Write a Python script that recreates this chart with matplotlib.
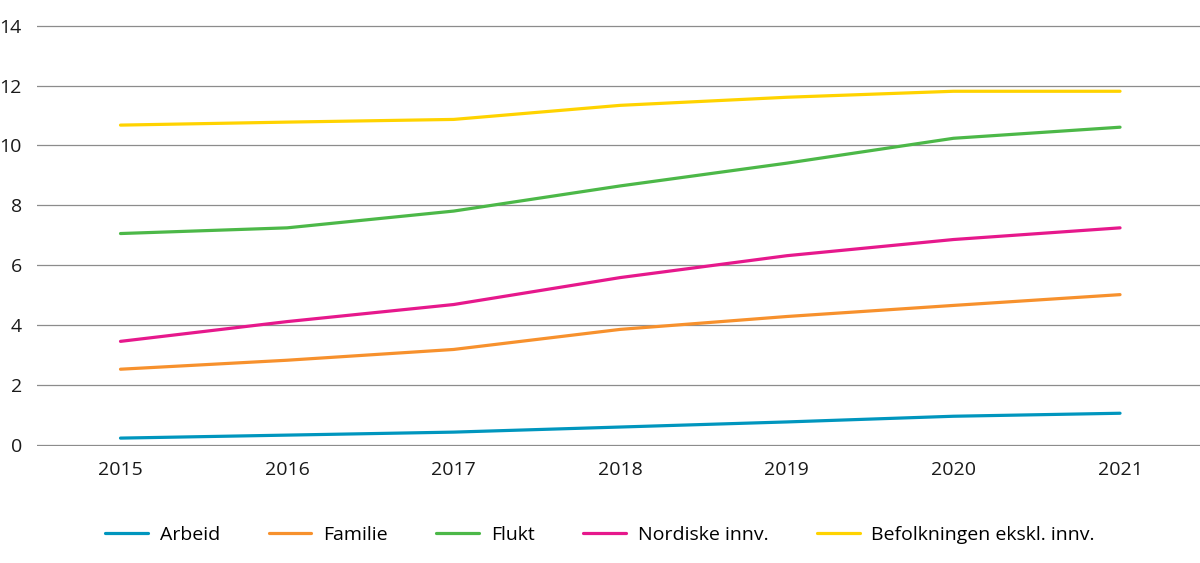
import matplotlib
matplotlib.use("Agg")
import matplotlib.pyplot as plt

years = [2015, 2016, 2017, 2018, 2019, 2020, 2021]
arbeid = [0.23, 0.33, 0.43, 0.60, 0.77, 0.96, 1.06]
familie = [2.53, 2.83, 3.19, 3.86, 4.29, 4.66, 5.02]
flukt = [7.06, 7.25, 7.81, 8.65, 9.41, 10.24, 10.61]
nordiske = [3.46, 4.12, 4.69, 5.59, 6.32, 6.86, 7.25]
befolkningen = [10.68, 10.78, 10.87, 11.34, 11.61, 11.81, 11.81]

labels = ["Arbeid", "Familie", "Flukt", "Nordiske innv.", "Befolkningen ekskl. innv."]
colors = ["#0096BE", "#F7912D", "#4CB848", "#E6188C", "#FFD300"]

plt.rcParams['font.family'] = ['Open Sans', 'DejaVu Sans']

fig = plt.figure(figsize=(12, 5.63), dpi=100)
ax = fig.add_axes([0.031, 0.208, 0.969, 0.748])

for vals, lab, col in zip([arbeid, familie, flukt, nordiske, befolkningen], labels, colors):
    ax.plot(years, vals, color=col, linewidth=2.3, label=lab, solid_capstyle="round")

ax.set_xlim(2014.5, 2021.48)
ax.set_ylim(-0.03, 14.03)
ax.set_yticks(range(0, 15, 2))
ax.set_xticks(years)
ax.grid(axis="y", color="#8c8c8c", linewidth=0.9)
ax.set_axisbelow(True)
for s in ax.spines.values():
    s.set_visible(False)
ax.tick_params(axis="both", length=0, labelsize=14, colors="#1a1a1a")
ax.tick_params(axis="y", pad=11)
ax.tick_params(axis="x", pad=11)

fig.legend(loc="center", bbox_to_anchor=(0.5, 0.05), ncol=5, frameon=False,
           fontsize=14, handlelength=2.2, columnspacing=2.5, handletextpad=0.6)

fig.savefig("out.png", dpi=100)
